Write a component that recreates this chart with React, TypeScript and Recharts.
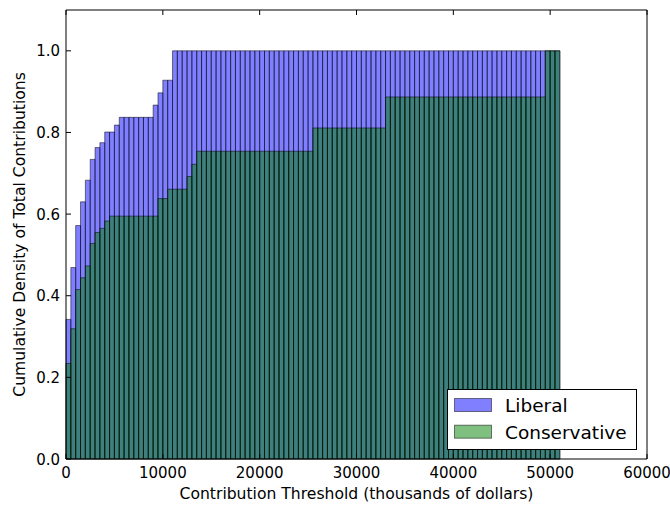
import React from 'react';
import { BarChart, Bar, XAxis, YAxis, Legend } from 'recharts';

const FONT = '"DejaVu Sans", sans-serif';

// histogram bin centres (bins of 500, from 0 to 51000)
const binCenters = [
  250, 750, 1250, 1750, 2250, 2750, 3250, 3750, 4250, 4750,
  5250, 5750, 6250, 6750, 7250, 7750, 8250, 8750, 9250, 9750,
  10250, 10750, 11250, 11750, 12250, 12750, 13250, 13750, 14250, 14750,
  15250, 15750, 16250, 16750, 17250, 17750, 18250, 18750, 19250, 19750,
  20250, 20750, 21250, 21750, 22250, 22750, 23250, 23750, 24250, 24750,
  25250, 25750, 26250, 26750, 27250, 27750, 28250, 28750, 29250, 29750,
  30250, 30750, 31250, 31750, 32250, 32750, 33250, 33750, 34250, 34750,
  35250, 35750, 36250, 36750, 37250, 37750, 38250, 38750, 39250, 39750,
  40250, 40750, 41250, 41750, 42250, 42750, 43250, 43750, 44250, 44750,
  45250, 45750, 46250, 46750, 47250, 47750, 48250, 48750, 49250, 49750,
  50250, 50750,
];

const liberalValues = [
  0.342, 0.469, 0.572, 0.630, 0.683, 0.734, 0.763, 0.775, 0.801, 0.801,
  0.818, 0.837, 0.837, 0.837, 0.837, 0.837, 0.837, 0.837, 0.867, 0.897,
  0.928, 0.928, 1.0, 1.0, 1.0, 1.0, 1.0, 1.0, 1.0, 1.0,
  1.0, 1.0, 1.0, 1.0, 1.0, 1.0, 1.0, 1.0, 1.0, 1.0,
  1.0, 1.0, 1.0, 1.0, 1.0, 1.0, 1.0, 1.0, 1.0, 1.0,
  1.0, 1.0, 1.0, 1.0, 1.0, 1.0, 1.0, 1.0, 1.0, 1.0,
  1.0, 1.0, 1.0, 1.0, 1.0, 1.0, 1.0, 1.0, 1.0, 1.0,
  1.0, 1.0, 1.0, 1.0, 1.0, 1.0, 1.0, 1.0, 1.0, 1.0,
  1.0, 1.0, 1.0, 1.0, 1.0, 1.0, 1.0, 1.0, 1.0, 1.0,
  1.0, 1.0, 1.0, 1.0, 1.0, 1.0, 1.0, 1.0, 1.0, 1.0,
  1.0, 1.0,
];

const conservativeValues = [
  0.234, 0.319, 0.415, 0.444, 0.473, 0.528, 0.555, 0.565, 0.583, 0.595,
  0.595, 0.595, 0.595, 0.595, 0.595, 0.595, 0.595, 0.595, 0.595, 0.638,
  0.638, 0.661, 0.661, 0.661, 0.661, 0.692, 0.722, 0.754, 0.754, 0.754,
  0.754, 0.754, 0.754, 0.754, 0.754, 0.754, 0.754, 0.754, 0.754, 0.754,
  0.754, 0.754, 0.754, 0.754, 0.754, 0.754, 0.754, 0.754, 0.754, 0.754,
  0.754, 0.811, 0.811, 0.811, 0.811, 0.811, 0.811, 0.811, 0.811, 0.811,
  0.811, 0.811, 0.811, 0.811, 0.811, 0.811, 0.887, 0.887, 0.887, 0.887,
  0.887, 0.887, 0.887, 0.887, 0.887, 0.887, 0.887, 0.887, 0.887, 0.887,
  0.887, 0.887, 0.887, 0.887, 0.887, 0.887, 0.887, 0.887, 0.887, 0.887,
  0.887, 0.887, 0.887, 0.887, 0.887, 0.887, 0.887, 0.887, 0.887, 1.0,
  1.0, 1.0,
];

const seriesNames = ['Liberal', 'Conservative'];
const xTicks = [0, 10000, 20000, 30000, 40000, 50000, 60000];
const yTicks = [0, 0.2, 0.4, 0.6, 0.8, 1.0];

const data = binCenters.map((x, i) => ({
  x,
  liberal: liberalValues[i],
  conservative: conservativeValues[i],
}));

const TICK_LEN = 5;
const LABEL_SIZE = 15.6;

function BottomTick(props: any) {
  const { x, y, payload } = props;
  return (
    <g>
      <line x1={x} x2={x} y1={y} y2={y - TICK_LEN} stroke="#000" strokeWidth={1} />
      <text x={x} y={y + 19} textAnchor="middle" fontSize={15} fontFamily={FONT} fill="#000">
        {String(payload.value)}
      </text>
    </g>
  );
}

function TopTick(props: any) {
  const { x, y } = props;
  return <line x1={x} x2={x} y1={y} y2={y + TICK_LEN} stroke="#000" strokeWidth={1} />;
}

function LeftTick(props: any) {
  const { x, y, payload } = props;
  return (
    <g>
      <line x1={x} x2={x + TICK_LEN} y1={y} y2={y} stroke="#000" strokeWidth={1} />
      <text x={x - 6} y={y + 5.5} textAnchor="end" fontSize={15} fontFamily={FONT} fill="#000">
        {Number(payload.value).toFixed(1)}
      </text>
    </g>
  );
}

function RightTick(props: any) {
  const { x, y } = props;
  return <line x1={x} x2={x - TICK_LEN} y1={y} y2={y} stroke="#000" strokeWidth={1} />;
}

function YLabel(props: any) {
  const vb = props.viewBox || { x: 0, y: 10, width: 66, height: 449 };
  const cx = vb.x + 20;
  const cy = vb.y + vb.height / 2;
  return (
    <text
      x={cx}
      y={cy}
      transform={`rotate(-90, ${cx}, ${cy})`}
      textAnchor="middle"
      dominantBaseline="central"
      fontSize={LABEL_SIZE}
      fontFamily={FONT}
      fill="#000"
    >
      Cumulative Density of Total Contributions
    </text>
  );
}

function XLabel(props: any) {
  const vb = props.viewBox || { x: 66, y: 459, width: 581, height: 46 };
  return (
    <text
      x={vb.x + vb.width / 2}
      y={vb.y + 40}
      textAnchor="middle"
      fontSize={LABEL_SIZE}
      fontFamily={FONT}
      fill="#000"
    >
      Contribution Threshold (thousands of dollars)
    </text>
  );
}

function LegendBox(props: any) {
  const items = [...(props.payload || [])].sort(
    (a: any, b: any) => seriesNames.indexOf(a.value) - seriesNames.indexOf(b.value)
  );
  return (
    <svg width={190} height={61} style={{ display: 'block' }}>
      <rect x={0.5} y={0.5} width={189} height={60} fill="#fff" stroke="#000" strokeWidth={1} />
      {items.map((it: any, i: number) => (
        <g key={it.value}>
          <rect
            x={7.5}
            y={9.5 + i * 26.7}
            width={37}
            height={13}
            fill={it.color}
            fillOpacity={0.5}
            stroke="#000"
            strokeOpacity={0.5}
          />
          <text x={58} y={23 + i * 26.5} fontSize={18.5} fontFamily={FONT} fill="#000">
            {it.value}
          </text>
        </g>
      ))}
    </svg>
  );
}

export default function App() {
  return (
    <div style={{ position: 'absolute', left: 0, top: 0, width: 670, height: 505, background: '#fff' }}>
      <BarChart
        width={670}
        height={505}
        data={data}
        margin={{ top: 9, right: 22, bottom: 0, left: 0 }}
        style={{ fontFamily: FONT }}
      >
        <XAxis
          xAxisId="bottom"
          dataKey="x"
          type="number"
          domain={[0, 60000]}
          ticks={xTicks}
          interval={0}
          orientation="bottom"
          height={46}
          tickSize={0}
          tickMargin={0}
          tickLine={false}
          tick={<BottomTick />}
          axisLine={{ stroke: '#000', strokeWidth: 1 }}
          label={XLabel}
        />
        <XAxis
          xAxisId="top"
          dataKey="x"
          type="number"
          domain={[0, 60000]}
          ticks={xTicks}
          interval={0}
          orientation="top"
          height={1}
          tickSize={0}
          tickMargin={0}
          tickLine={false}
          tick={<TopTick />}
          axisLine={{ stroke: '#000', strokeWidth: 1 }}
        />
        <YAxis
          yAxisId="left"
          type="number"
          domain={[0, 1.1]}
          ticks={yTicks}
          interval={0}
          orientation="left"
          width={66}
          tickSize={0}
          tickMargin={0}
          tickLine={false}
          tick={<LeftTick />}
          axisLine={{ stroke: '#000', strokeWidth: 1 }}
          label={YLabel}
        />
        <YAxis
          yAxisId="right"
          type="number"
          domain={[0, 1.1]}
          ticks={yTicks}
          interval={0}
          orientation="right"
          width={1}
          tickSize={0}
          tickMargin={0}
          tickLine={false}
          tick={<RightTick />}
          axisLine={{ stroke: '#000', strokeWidth: 1 }}
        />
        <Bar
          name="Liberal"
          dataKey="liberal"
          xAxisId="bottom"
          yAxisId="left"
          fill="#0000ff"
          fillOpacity={0.5}
          stroke="#000"
          strokeOpacity={0.5}
          strokeWidth={1}
          barSize={4.84}
          isAnimationActive={false}
        />
        <Bar
          name="Conservative"
          dataKey="conservative"
          xAxisId="top"
          yAxisId="left"
          fill="#008000"
          fillOpacity={0.5}
          stroke="#000"
          strokeOpacity={0.5}
          strokeWidth={1}
          barSize={4.84}
          isAnimationActive={false}
        />
        <Legend
          layout="vertical"
          align="center"
          verticalAlign="middle"
          wrapperStyle={{ left: 447, top: 389, width: 190, height: 61 }}
          content={<LegendBox />}
        />
      </BarChart>
    </div>
  );
}
